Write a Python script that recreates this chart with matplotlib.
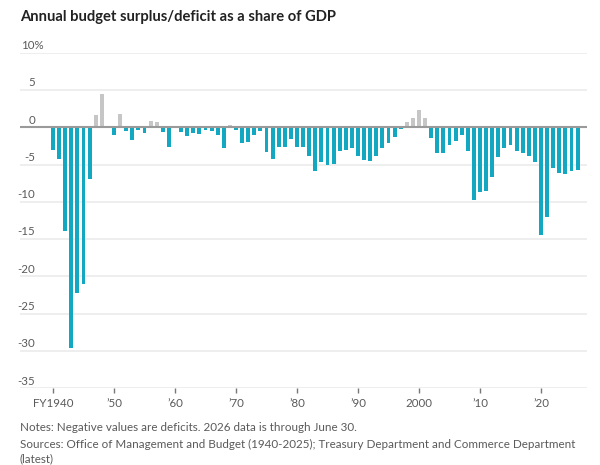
import matplotlib
matplotlib.use("Agg")
import matplotlib.pyplot as plt
import matplotlib.transforms as mtransforms

years = list(range(1940, 2027))
values = [
    -3.0, -4.3, -13.9, -29.6, -22.2, -21.0, -7.0, 1.6, 4.4, 0.2,   # 1940s
    -1.1, 1.8, -0.5, -1.7, -0.4, -0.8, 0.9, 0.7, -0.6, -2.6,       # 1950s
    0.1, -0.6, -1.2, -0.8, -0.9, -0.3, -0.5, -1.1, -2.8, 0.3,      # 1960s
    -0.4, -2.1, -2.0, -1.1, -0.5, -3.3, -4.2, -2.7, -2.7, -1.6,    # 1970s
    -2.7, -2.6, -3.9, -5.8, -4.7, -5.0, -4.9, -3.2, -3.0, -2.8,    # 1980s
    -3.8, -4.4, -4.5, -3.8, -2.8, -2.1, -1.3, -0.2, 0.7, 1.2,      # 1990s
    2.3, 1.2, -1.5, -3.4, -3.4, -2.4, -1.8, -1.1, -3.2, -9.8,      # 2000s
    -8.7, -8.5, -6.7, -4.0, -2.8, -2.4, -3.2, -3.4, -3.8, -4.65,   # 2010s
    -14.5, -12.0, -5.4, -6.1, -6.3, -5.9, -5.7,                    # 2020s
]
tick_years = [1940, 1950, 1960, 1970, 1980, 1990, 2000, 2010, 2020]
tick_labels = ["FY1940", "\u201950", "\u201960", "\u201970", "\u201980", "\u201990", "2000", "\u201910", "\u201920"]
y_grid = [10, 5, 0, -5, -10, -15, -20, -25, -30, -35]

title = "Annual budget surplus/deficit as a share of GDP"
notes = [
    "Notes: Negative values are deficits. 2026 data is through June 30.",
    "Sources: Office of Management and Budget (1940-2025); Treasury Department and Commerce Department",
    "(latest)",
]

teal = "#13a8c1"
gray_bar = "#c6c6c6"
text_gray = "#5a5a5a"

plt.rcParams["font.family"] = ["Lato", "DejaVu Sans"]

W, H = 600, 465
fig = plt.figure(figsize=(W / 100, H / 100), dpi=100)
fig.patch.set_facecolor("white")

left_px, right_px = 20, 586.7
top_px, bot_px = 52.7, 388.3
ax = fig.add_axes([left_px / W, 1 - bot_px / H, (right_px - left_px) / W, (bot_px - top_px) / H])

px_per_year = 6.1
x0_px = 53.0
ax.set_xlim(1940 - (x0_px - left_px) / px_per_year, 1940 + (right_px - x0_px) / px_per_year)
ax.set_ylim(-35, 10)

for g in y_grid:
    if g == 0:
        continue
    ax.axhline(g, color="#ebebeb", lw=1.2, zorder=0)

colors = [teal if v < 0 else gray_bar for v in values]
ax.bar(years, values, width=0.64, color=colors, zorder=2)
ax.axhline(0, color="#9a9a9a", lw=1.5, zorder=3)

for s in ax.spines.values():
    s.set_visible(False)
ax.set_yticks([])
ax.set_xticks(tick_years)
ax.set_xticklabels(tick_labels)
ax.tick_params(axis="x", length=3.5, width=1, color="#777777", pad=3.5, labelsize=8.3, labelcolor=text_gray)

# y labels right aligned; the top label's % hangs past the right edge
trans = mtransforms.blended_transform_factory(fig.transFigure, ax.transData)
off = mtransforms.offset_copy(trans, fig=fig, x=0, y=1.2, units="points")
for g in y_grid:
    if g == 10:
        ax.text(20.7 / W, g, "10%", transform=off, ha="left", va="bottom", fontsize=8.3, color=text_gray)
    else:
        ax.text(35 / W, g, str(g), transform=off, ha="right", va="bottom", fontsize=8.3, color=text_gray)

fig.text(20 / W, 1 - 17.3 / H, title, ha="left", va="center", fontsize=10.6, fontweight="bold", color="#222222")

for line, ypx in zip(notes, [427, 444, 459]):
    fig.text(20 / W, 1 - ypx / H, line, ha="left", va="center", fontsize=8.4, color=text_gray)

fig.savefig("out.png", dpi=100, facecolor="white")
